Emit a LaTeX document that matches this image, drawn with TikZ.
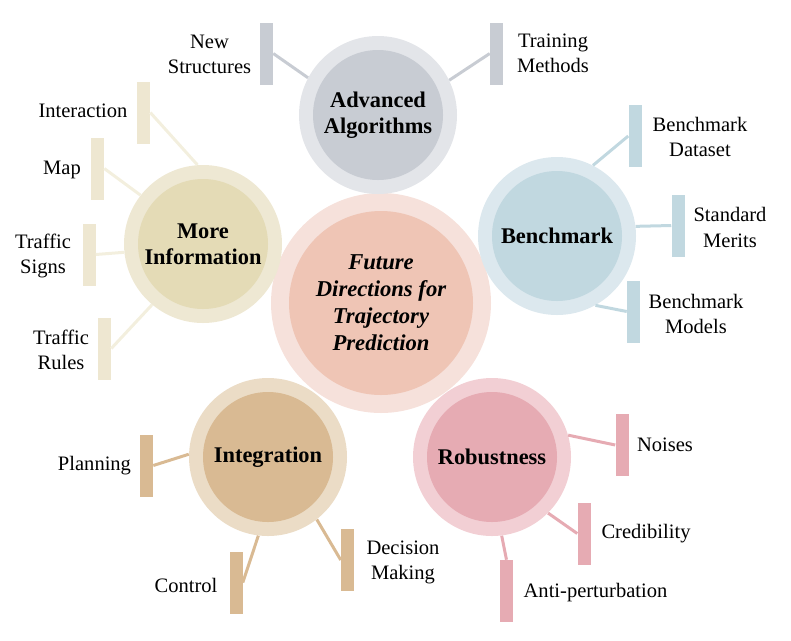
\documentclass[tikz,border=0pt]{standalone}
\usepackage{fontspec}
\setmainfont{Liberation Serif}

\definecolor{futOut}{HTML}{F6E1DB}
\definecolor{futIn}{HTML}{EFC5B5}
\definecolor{algOut}{HTML}{E3E5E9}
\definecolor{algIn}{HTML}{C8CCD3}
\definecolor{benchOut}{HTML}{DCE8EE}
\definecolor{benchIn}{HTML}{C1D8E0}
\definecolor{infoOut}{HTML}{EEE8D3}
\definecolor{infoIn}{HTML}{E4DBB6}
\definecolor{infoBar}{HTML}{EEE7D1}
\definecolor{infoLine}{HTML}{F3EFDE}
\definecolor{integOut}{HTML}{EBDCC6}
\definecolor{integIn}{HTML}{D9BA93}
\definecolor{robOut}{HTML}{F2CFD4}
\definecolor{robIn}{HTML}{E6ABB3}

\tikzset{
    ring/.style={circle, inner sep=0pt, minimum size=118.5pt},
    hub/.style={circle, inner sep=0pt, minimum size=97.5pt, align=center,
        font=\fontsize{16.8}{19.5}\selectfont\bfseries},
    bar/.style={rectangle, inner sep=0pt, minimum width=9.75pt, minimum height=46.5pt},
    leaf/.style={align=center, inner sep=0pt, font=\fontsize{15.4}{18.8}\selectfont},
    link/.style={line width=2.25pt}
}

\begin{document}
\begin{tikzpicture}[
                x=0.75pt,
                y=0.75pt,
                yscale=-1,
                xscale=1
            ]
                \useasboundingbox (0,0) rectangle (791,640);

                % central circle
                \node [ring, fill=futOut, minimum size=165pt] (futring) at (381,303) {};
                \node [hub, fill=futIn, minimum size=138pt, font=\fontsize{17}{20.2}\selectfont\bfseries\itshape] (fut) at (381,303) {Future\\Directions for\\Trajectory\\Prediction};

                % satellites
                \node [ring, fill=algOut] (algring) at (378,115) {};
                \node [hub, fill=algIn] (alg) at (378,115) {Advanced\\Algorithms};
                \node [ring, fill=benchOut] (benchring) at (557,236) {};
                \node [hub, fill=benchIn] (bench) at (557,236) {Benchmark};
                \node [ring, fill=infoOut] (inforing) at (203,244) {};
                \node [hub, fill=infoIn] (info) at (203,244) {More\\Information};
                \node [ring, fill=integOut] (integring) at (268,457) {};
                \node [hub, fill=integIn] (integ) at (268,457) {Integration};
                \node [ring, fill=robOut] (robring) at (492,457) {};
                \node [hub, fill=robIn] (rob) at (492,457) {Robustness};

                % bars
                \node [bar, fill=algIn] (nsbar) at (266.5,53.5) {};
                \node [bar, fill=algIn] (tmbar) at (496.5,53.5) {};
                \node [bar, fill=infoBar] (intbar) at (143.5,112.5) {};
                \node [bar, fill=infoBar] (mapbar) at (97.5,168.5) {};
                \node [bar, fill=infoBar] (tsbar) at (89,254.5) {};
                \node [bar, fill=infoBar] (trbar) at (104.5,348.5) {};
                \node [bar, fill=benchIn] (bdbar) at (635,136) {};
                \node [bar, fill=benchIn] (smbar) at (678,225.5) {};
                \node [bar, fill=benchIn] (bmbar) at (633.5,311.5) {};
                \node [bar, fill=integIn] (planbar) at (146.5,465.5) {};
                \node [bar, fill=integIn] (ctrlbar) at (236,582.5) {};
                \node [bar, fill=integIn] (dmbar) at (347.5,560) {};
                \node [bar, fill=robIn] (noisebar) at (622,445) {};
                \node [bar, fill=robIn] (credbar) at (584,533.5) {};
                \node [bar, fill=robIn] (antibar) at (506.5,591) {};

                % links
                \draw [link, algIn] (algring.152) -- (nsbar.east);
                \draw [link, algIn] (algring.26) -- (tmbar.west);
                \draw [link, infoLine] (inforing.94) -- (intbar.east);
                \draw [link, infoLine] (inforing.142) -- (mapbar.east);
                \draw [link, infoLine] (inforing.186) -- (tsbar.east);
                \draw [link, infoLine] (inforing.230) -- (trbar.east);
                \draw [link, benchIn] (benchring.63) -- (bdbar.west);
                \draw [link, benchIn] (benchring.7) -- (smbar.west);
                \draw [link, benchIn] (benchring.-61) -- (bmbar.west);
                \draw [link, integIn] (integring.178) -- (planbar.east);
                \draw [link, integIn] (integring.263) -- (ctrlbar.east);
                \draw [link, integIn] (integring.-52) -- (dmbar.west);
                \draw [link, robIn] (robring.16) -- (noisebar.west);
                \draw [link, robIn] (robring.-45) -- (credbar.west);
                \draw [link, robIn] (robring.-83) -- (antibar.north);

                % labels
                \node [leaf] (ns) at (209.5,54) {New\\Structures};
                \node [leaf] (tm) at (553,53) {Training\\Methods};
                \node [leaf] (inter) at (83,111) {Interaction};
                \node [leaf] (map) at (62,170) {Map};
                \node [leaf] (ts) at (43,256) {Traffic\\Signs};
                \node [leaf] (tr) at (61,350) {Traffic\\Rules};
                \node [leaf] (bd) at (700,137) {Benchmark\\Dataset};
                \node [leaf] (sm) at (730,227.5) {Standard\\Merits};
                \node [leaf] (bm) at (696,314) {Benchmark\\Models};
                \node [leaf] (plan) at (94.5,466) {Planning};
                \node [leaf] (ctrl) at (186,585) {Control};
                \node [leaf] (dm) at (403,562.5) {Decision\\Making};
                \node [leaf] (noise) at (665,445) {Noises};
                \node [leaf] (cred) at (646,534) {Credibility};
                \node [leaf] (anti) at (595.5,593) {Anti-perturbation};
            \end{tikzpicture}
\end{document}
